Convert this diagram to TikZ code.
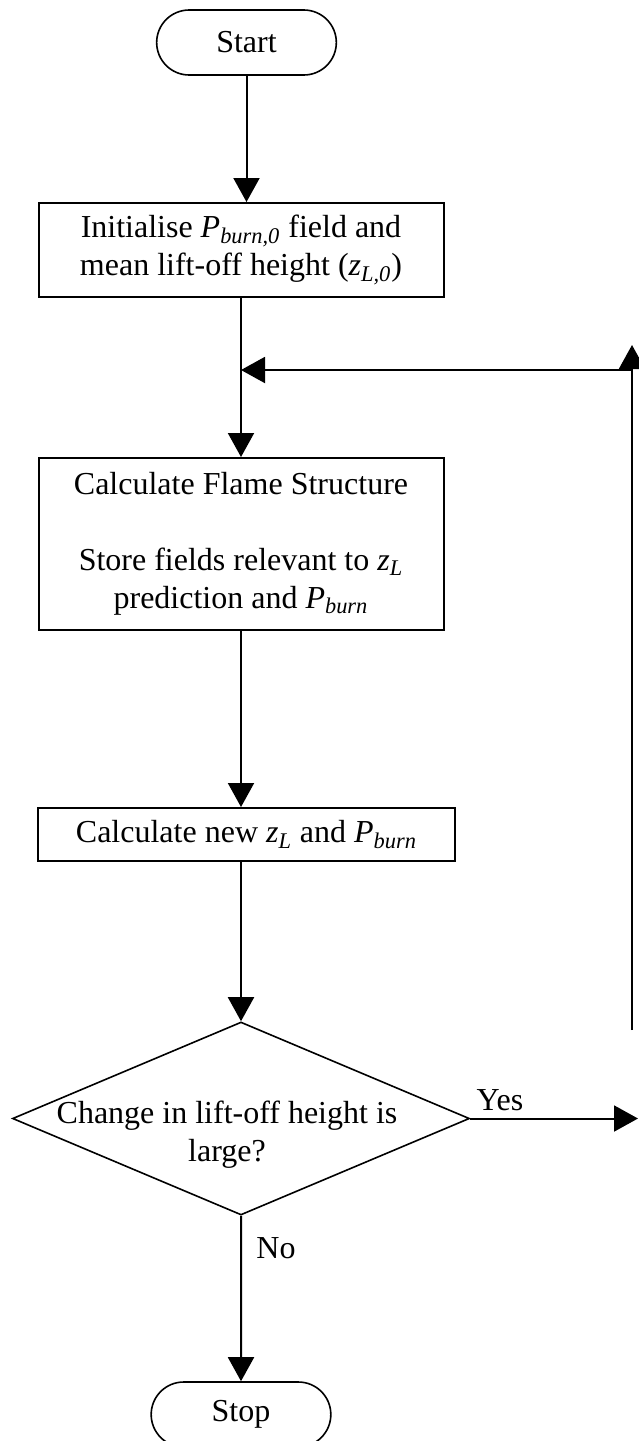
\documentclass[tikz,border=0pt]{standalone}
\usepackage{fontspec}
\setmainfont{Liberation Serif}
\usetikzlibrary{shapes.geometric,shapes.misc,arrows.meta}
\newcommand{\isub}[1]{\textsubscript{\itshape #1}}

\begin{document}
\begin{tikzpicture}[x=0.5pt, y=-0.5pt,
    every node/.style={font=\fontsize{16}{19}\selectfont},
    term/.style={draw, line width=0.8pt, rounded rectangle, minimum width=96.5pt, minimum height=32.5pt},
    stepbox/.style={draw, line width=1pt, rectangle, align=center, minimum width=202.5pt},
    decision/.style={draw, line width=0.8pt, diamond, inner sep=0pt, minimum width=228.5pt, minimum height=96.5pt},
    arr/.style={line width=1pt, -{Triangle[length=12pt, width=13pt]}}]
  \useasboundingbox (0,0) rectangle (638,1441);
  \node[term] (start) at (246.5,42.5) {Start};
  \node[stepbox, minimum height=47pt] (init) at (241,250)
    {Initialise \textit{P}\isub{burn,0} field and\\ mean lift-off height (\textit{z}\isub{L,0})};
  \node[stepbox, minimum height=86pt] (calc) at (241,544)
    {Calculate Flame Structure\\[19pt] Store fields relevant to \textit{z}\isub{L}\\ prediction and \textit{P}\isub{burn}};
  \node[stepbox, minimum width=208.5pt, minimum height=26.5pt] (new) at (246.5,834.5)
    {Calculate new \textit{z}\isub{L} and \textit{P}\isub{burn}};
  \node[decision] (dec) at (241,1118.5) {};
  \node[align=center] (dectext) at (227,1135) {Change in lift-off height is\\ large?};
  \node[term] (stop) at (241,1414.5) {Stop};
  \node (yes) at (500,1100) {Yes};
  \node (no) at (276,1248) {No};
  \coordinate (yesend) at (638,1118.5);
  \coordinate (loopbot) at (632,1030);
  \coordinate (looptop) at (632,345);
  \coordinate (loopin) at (632,370);

  \draw[arr] (start.south |- start.south) -- (start.south |- init.north);
  \draw[arr] (init) -- (calc);
  \draw[arr] (calc) -- (calc.south |- new.north);
  \draw[arr] (calc.south |- new.south) -- (dec.north);
  \draw[arr] (dec) -- (stop);
  \draw[arr] (dec.east) -- (yesend);
  \draw[arr] (loopbot) -- (looptop);
  \draw[arr] (loopin) -- (loopin -| init.south);
\end{tikzpicture}
\end{document}
